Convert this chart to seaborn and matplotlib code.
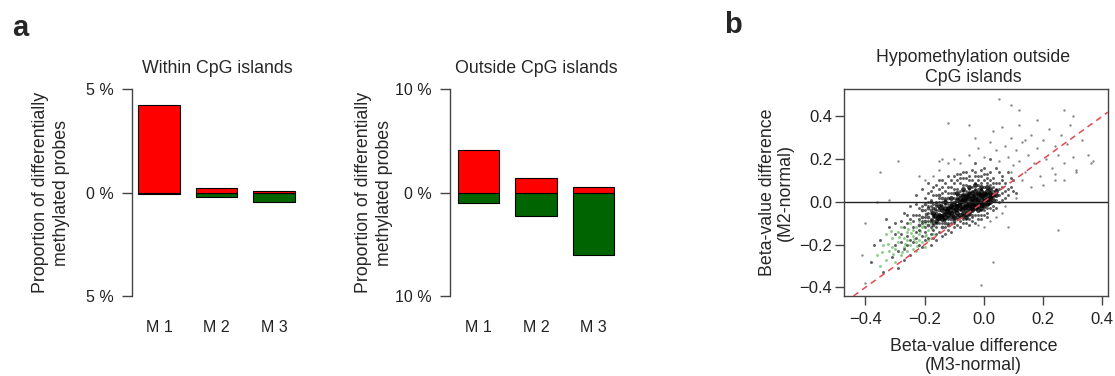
import matplotlib
matplotlib.use("Agg")
import matplotlib.pyplot as plt
import seaborn as sns
import pandas as pd

# ---------------- data ----------------
methods = ["M 1", "M 2", "M 3"]
within_hyper = [4.23, 0.20, 0.06]      # red, % (upwards)
within_hypo = [0.05, 0.20, 0.45]       # green, % (downwards)
outside_hyper = [4.15, 1.40, 0.50]
outside_hypo = [1.06, 2.30, 6.00]

within_ticks = [-5, 0, 5]
within_ticklabels = ["5 %", "0 %", "5 %"]
outside_ticks = [-10, 0, 10]
outside_ticklabels = ["10 %", "0 %", "10 %"]

scatter_ticks = [-0.4, -0.2, 0.0, 0.2, 0.4]
scatter_ticklabels = ["\u22120.4", "\u22120.2", "0.0", "0.2", "0.4"]

core_points = [
(-0.12,-0.06),(-0.12,-0.03),(-0.11,-0.05),(-0.11,-0.02),(-0.10,-0.07),(-0.10,-0.04),(-0.10,-0.01),(-0.09,-0.05),(-0.09,-0.02),(-0.09,0.01),
(-0.08,-0.06),(-0.08,-0.03),(-0.08,0.00),(-0.08,0.02),(-0.07,-0.05),(-0.07,-0.02),(-0.07,0.01),(-0.07,0.03),(-0.06,-0.04),(-0.06,-0.01),
(-0.06,0.01),(-0.06,0.03),(-0.05,-0.05),(-0.05,-0.03),(-0.05,-0.01),(-0.05,0.02),(-0.05,0.04),(-0.04,-0.04),(-0.04,-0.02),(-0.04,0.00),
(-0.04,0.02),(-0.04,0.04),(-0.03,-0.03),(-0.03,-0.01),(-0.03,0.01),(-0.03,0.03),(-0.03,0.05),(-0.02,-0.04),(-0.02,-0.02),(-0.02,0.00),
(-0.02,0.02),(-0.02,0.04),(-0.01,-0.03),(-0.01,-0.01),(-0.01,0.01),(-0.01,0.03),(-0.01,0.05),(0.00,-0.02),(0.00,0.00),(0.00,0.02),
(0.00,0.04),(0.01,-0.01),(0.01,0.01),(0.01,0.03),(0.01,0.05),(0.02,0.00),(0.02,0.02),(0.02,0.04),(0.03,0.01),(0.03,0.03),
(-0.15,-0.06),(-0.14,-0.08),(-0.14,-0.04),(-0.13,-0.07),(-0.13,-0.03),(-0.16,-0.09),(-0.17,-0.05),(-0.15,-0.02),(-0.13,0.00),(-0.11,0.02),
(-0.09,0.04),(-0.07,0.06),(-0.05,0.07),(-0.03,0.08),(-0.01,0.07),(0.01,0.07),(0.02,0.06),(0.04,0.03),(0.04,0.05),(-0.06,-0.07),
(-0.115,-0.045),(-0.105,-0.025),(-0.095,-0.035),(-0.085,-0.015),(-0.075,-0.035),(-0.075,0.005),(-0.065,-0.025),(-0.065,0.015),
(-0.055,-0.015),(-0.055,0.025),(-0.045,-0.035),(-0.045,0.005),(-0.035,-0.015),(-0.035,0.025),(-0.025,-0.025),(-0.025,0.015),
(-0.015,-0.005),(-0.015,0.035),(-0.005,-0.015),(-0.005,0.025),(0.005,0.005),(0.005,0.035),(0.015,0.015),(0.015,-0.005),
(0.025,0.025),(-0.125,-0.045),(-0.135,-0.055),(-0.145,-0.065),(-0.155,-0.075),(-0.165,-0.065),
]

mid_points = [
(-0.22,-0.11),(-0.21,-0.07),(-0.21,-0.04),(-0.20,-0.09),(-0.20,-0.01),(-0.19,-0.11),(-0.19,-0.07),(-0.19,-0.03),(-0.18,-0.09),(-0.18,-0.04),
(-0.18,0.00),(-0.17,-0.11),(-0.17,-0.06),(-0.17,-0.03),(-0.16,-0.10),(-0.16,-0.05),(-0.16,-0.01),(-0.15,-0.08),(-0.15,-0.04),(-0.15,0.03),
(-0.14,-0.12),(-0.14,-0.07),(-0.14,-0.03),(-0.14,0.02),(-0.13,-0.10),(-0.13,-0.05),(-0.13,0.01),(-0.12,-0.11),(-0.12,-0.07),(-0.12,-0.03),
(-0.12,0.02),(-0.11,-0.08),(-0.11,-0.06),(-0.11,-0.01),(-0.10,-0.09),(-0.10,-0.05),(-0.10,0.00),(-0.10,0.04),(-0.09,-0.07),(-0.09,-0.04),
(-0.09,0.02),(-0.08,-0.07),(-0.08,-0.01),(-0.08,0.03),(-0.07,-0.06),(-0.07,-0.03),(-0.07,0.02),(-0.06,-0.06),(-0.06,-0.02),(-0.06,0.02),
(-0.195,-0.055),(-0.175,-0.085),(-0.165,-0.035),(-0.155,-0.065),(-0.145,-0.015),(-0.135,-0.085),(-0.125,-0.045),(-0.115,-0.025),(-0.105,-0.065),(-0.095,-0.015),
]

body_points = [
(-0.30,-0.20),(-0.28,-0.15),(-0.27,-0.22),(-0.26,-0.10),(-0.25,-0.18),(-0.24,-0.06),(-0.23,-0.14),(-0.22,-0.03),(-0.22,-0.20),(-0.21,-0.09),
(-0.20,0.02),(-0.20,-0.12),(-0.19,-0.05),(-0.19,-0.17),(-0.18,0.05),(-0.18,-0.08),(-0.17,-0.01),(-0.17,-0.13),(-0.16,0.08),(-0.16,-0.04),
(-0.15,-0.10),(-0.15,0.02),(-0.14,-0.06),(-0.14,0.10),(-0.13,-0.01),(-0.13,-0.12),(-0.12,0.04),(-0.12,-0.08),(-0.11,0.07),(-0.11,-0.03),
(-0.10,0.12),(-0.10,-0.10),(-0.09,0.03),(-0.09,-0.06),(-0.08,0.09),(-0.08,-0.09),(-0.07,0.05),(-0.07,-0.07),(-0.06,0.14),(-0.06,-0.05),
(-0.05,0.10),(-0.05,-0.08),(-0.04,0.07),(-0.04,-0.06),(-0.03,0.12),(-0.03,0.18),(-0.02,0.08),(-0.02,-0.08),(-0.01,0.15),(-0.01,-0.04),
(0.00,0.10),(0.00,-0.06),(0.01,0.13),(0.01,-0.03),(0.02,0.08),(0.02,0.20),(0.03,0.11),(0.03,-0.02),(0.04,0.06),(0.04,0.16),
(0.05,0.03),(0.05,0.09),(0.06,0.12),(0.06,0.01),(0.07,0.05),(0.08,0.14),(0.08,0.03),(0.09,0.07),(0.10,0.10),(0.11,0.04),
(-0.21,-0.16),(-0.19,0.00),(-0.17,-0.07),(-0.16,-0.15),(-0.15,0.06),(-0.14,-0.02),(-0.13,0.05),(-0.12,-0.05),(-0.11,0.00),(-0.10,0.06),
(-0.09,-0.02),(-0.08,0.13),(-0.07,0.00),(-0.06,0.08),(-0.05,-0.02),(-0.04,0.15),(-0.03,-0.01),(-0.02,0.12),(-0.01,0.06),(0.00,0.16),
(-0.24,-0.12),(-0.23,-0.01),(-0.22,-0.08),(-0.20,-0.07),(-0.18,-0.02),(-0.17,0.03),(-0.16,0.00),(-0.15,-0.06),(-0.14,0.04),(-0.13,-0.08),
(-0.27,-0.05),(-0.25,-0.02),(-0.23,0.03),(-0.21,0.06),(-0.19,0.09),(-0.18,-0.12),(-0.12,0.12),(-0.11,-0.10),(-0.09,0.10),(-0.07,0.11),
(-0.05,0.04),(-0.04,0.01),(-0.03,0.06),(-0.02,0.00),(0.01,0.09),(0.02,0.04),(0.03,0.07),(0.04,0.01),(0.05,0.14),(0.06,0.07),
(-0.38,-0.28),(-0.37,-0.20),(-0.35,-0.18),(-0.34,-0.33),(-0.32,-0.12),(-0.31,-0.26),(-0.29,-0.31),(-0.28,-0.09),(-0.27,-0.27),(-0.26,-0.06),
(-0.25,-0.25),(-0.33,-0.08),(-0.30,-0.10),(-0.18,-0.20),(-0.16,-0.18),(-0.15,-0.14),(-0.14,-0.16),(-0.13,-0.15),(-0.12,-0.13),(-0.11,-0.14),
(-0.10,-0.12),(-0.09,-0.11),(-0.08,-0.12),(-0.07,-0.10),(-0.06,-0.10),(-0.05,-0.11),(-0.04,-0.09),(-0.03,-0.10),(-0.01,-0.08),(0.01,-0.07),
(-0.26,-0.16),(-0.25,-0.08),(-0.24,-0.19),(-0.23,-0.06),(-0.22,-0.13),(-0.21,-0.02),(-0.21,-0.21),(-0.20,-0.04),(-0.20,-0.14),(-0.19,-0.09),
(-0.19,0.04),(-0.18,-0.15),(-0.18,0.01),(-0.17,-0.10),(-0.17,0.07),(-0.16,-0.07),(-0.16,0.03),(-0.16,-0.12),(-0.15,-0.03),(-0.15,0.10),
(-0.14,-0.10),(-0.14,0.00),(-0.14,0.07),(-0.13,-0.04),(-0.13,0.02),(-0.13,0.09),(-0.12,-0.10),(-0.12,-0.01),(-0.12,0.07),(-0.11,-0.07),
(-0.11,0.04),(-0.11,0.10),(-0.10,-0.08),(-0.10,0.02),(-0.10,0.09),(-0.09,-0.08),(-0.09,0.06),(-0.09,0.13),(-0.08,-0.04),(-0.08,0.05),
(-0.08,0.11),(-0.07,-0.08),(-0.07,0.03),(-0.07,0.08),(-0.07,0.14),(-0.06,-0.08),(-0.06,0.05),(-0.06,0.11),(-0.05,-0.06),(-0.05,0.06),
(-0.05,0.12),(-0.04,-0.07),(-0.04,0.05),(-0.04,0.10),(-0.03,-0.06),(-0.03,0.09),(-0.03,0.14),(-0.02,-0.06),(-0.02,0.06),(-0.02,0.10),
(-0.01,-0.06),(-0.01,0.09),(-0.01,0.12),(0.00,-0.04),(0.00,0.07),(0.00,0.13),(0.01,-0.05),(0.01,0.11),(0.02,-0.03),(0.02,0.10),
(0.02,0.14),(0.03,-0.04),(0.03,0.05),(0.03,0.09),(0.04,-0.03),(0.04,0.09),(0.05,0.00),(0.05,0.06),(0.06,0.04),(0.06,0.10),
(0.07,0.02),(0.07,0.09),(0.08,0.06),(0.09,0.11),(0.10,0.05),(-0.28,-0.19),(-0.29,-0.23),(-0.30,-0.15),(-0.27,-0.12),(-0.26,-0.20),
(-0.24,-0.09),(-0.23,-0.17),(-0.22,-0.06),(-0.21,-0.10),(-0.20,-0.18),(-0.19,-0.02),(-0.18,-0.05),(-0.17,-0.17),(-0.16,-0.02),(-0.15,0.00),
]

sparse_points = [
(-0.08,0.18),(-0.05,0.22),(-0.02,0.25),(0.00,0.21),(0.02,0.28),(0.04,0.24),(0.05,0.19),(0.07,0.26),(0.08,0.21),(0.09,0.30),
(0.10,0.17),(0.11,0.24),(0.12,0.19),(0.13,0.28),(0.14,0.14),(0.15,0.22),(0.16,0.31),(0.17,0.18),(0.18,0.25),(0.19,0.12),
(0.20,0.29),(0.21,0.20),(0.22,0.34),(0.23,0.16),(0.24,0.26),(0.25,0.22),(0.26,0.31),(0.27,0.18),(0.28,0.27),(0.29,0.36),
(0.30,0.21),(0.31,0.15),(0.33,0.29),(0.35,0.22),(0.36,0.18),(-0.03,0.30),(0.03,0.33),(0.06,0.35),(0.12,0.36),(0.18,0.38),
(0.13,0.10),(0.16,0.07),(0.09,0.14),(0.11,0.02),(0.07,-0.02),(0.06,-0.05),(0.04,-0.07),(0.02,-0.09),(0.00,-0.12),(-0.02,-0.11),
(-0.12,0.18),(-0.10,0.20),(-0.15,0.15),(-0.17,0.12),(-0.20,0.10),(-0.22,0.12),(-0.14,0.20),(0.20,0.08),(0.24,0.13),(0.27,0.10),
(-0.35,0.14),(-0.29,0.19),(-0.15,0.19),(-0.05,0.36),(0.05,0.48),(0.09,0.45),(0.12,0.43),(-0.12,0.37),(0.25,-0.13),(0.03,-0.28),
(-0.01,-0.39),(0.27,0.43),(0.37,0.19),(0.30,0.40),(-0.41,-0.25),(-0.40,-0.38),(-0.36,0.00),(-0.32,0.01),(0.14,0.29),(0.08,-0.12),
(0.31,0.14),(0.24,0.10),(-0.40,-0.10),
]

green_points = [
(-0.36,-0.25),(-0.35,-0.30),(-0.34,-0.20),(-0.33,-0.27),(-0.32,-0.23),(-0.31,-0.17),(-0.30,-0.28),(-0.30,-0.22),(-0.29,-0.19),(-0.28,-0.25),
(-0.28,-0.12),(-0.27,-0.17),(-0.26,-0.23),(-0.26,-0.14),(-0.25,-0.20),(-0.25,-0.10),(-0.24,-0.16),(-0.24,-0.22),(-0.23,-0.12),(-0.23,-0.19),
(-0.22,-0.15),(-0.22,-0.09),(-0.21,-0.19),(-0.21,-0.12),(-0.20,-0.16),(-0.20,-0.10),(-0.19,-0.13),(-0.18,-0.17),(-0.18,-0.10),(-0.17,-0.15),
(-0.33,-0.15),(-0.31,-0.21),(-0.29,-0.14),(-0.27,-0.21),(-0.26,-0.18),(-0.24,-0.13),(-0.23,-0.23),(-0.22,-0.18),(-0.20,-0.21),(-0.19,-0.18),
(-0.345,-0.235),(-0.325,-0.195),(-0.305,-0.245),(-0.285,-0.165),(-0.265,-0.195),(-0.245,-0.145),(-0.225,-0.205),(-0.215,-0.135),
(-0.195,-0.155),(-0.175,-0.125),(-0.315,-0.135),(-0.275,-0.235),(-0.255,-0.125),(-0.235,-0.175),(-0.205,-0.115),
]

# ---------------- style ----------------
sns.set_style("ticks")
plt.rcParams["font.family"] = ["Liberation Sans", "DejaVu Sans"]
plt.rcParams["axes.edgecolor"] = "#444444"
plt.rcParams["xtick.color"] = "#444444"
plt.rcParams["ytick.color"] = "#444444"
plt.rcParams["xtick.labelcolor"] = "#222222"
plt.rcParams["ytick.labelcolor"] = "#222222"

W, H = 1115, 376
fig = plt.figure(figsize=(W / 100, H / 100), dpi=100)

def px_axes(x0, y_top, x1, y_bot):
    return fig.add_axes([x0 / W, 1 - y_bot / H, (x1 - x0) / W, (y_bot - y_top) / H])

RED = "#FF0000"
GREEN = "#006400"

def bar_panel(ax, hyper, hypo, lim, ticks, ticklabels, title, xlim, label_x):
    df_up = pd.DataFrame({"method": methods, "value": hyper})
    df_dn = pd.DataFrame({"method": methods, "value": [-v for v in hypo]})
    sns.barplot(data=df_dn, x="method", y="value", color=GREEN, saturation=1,
                edgecolor="black", linewidth=0.8, width=0.72, ax=ax)
    sns.barplot(data=df_up, x="method", y="value", color=RED, saturation=1,
                edgecolor="black", linewidth=0.8, width=0.72, ax=ax)
    ax.set_xlim(*xlim)
    ax.set_ylim(-lim, lim)
    for s in ["top", "right", "bottom"]:
        ax.spines[s].set_visible(False)
    ax.spines["left"].set_linewidth(1.0)
    ax.set_yticks(ticks)
    ax.set_yticklabels(ticklabels)
    ax.tick_params(axis="y", left=True, direction="out", length=7, width=1.0, pad=6,
                   labelsize=11.5)
    ax.tick_params(axis="x", bottom=False, length=0, pad=17, labelsize=11.5)
    ax.set_xlabel("")
    ax.set_ylabel("Proportion of differentially\nmethylated probes", fontsize=12.8,
                  linespacing=1.35)
    ax.yaxis.set_label_coords(label_x, 0.5)
    ax.text(0.5, 1.10, title, transform=ax.transAxes, ha="center", va="center",
            fontsize=12.8)
    ax.set_facecolor("none")

ax1 = px_axes(132, 89, 303, 296)
bar_panel(ax1, within_hyper, within_hypo, 5, within_ticks, within_ticklabels,
          "Within CpG islands", (-0.47, 2.5), -0.36)

ax2 = px_axes(450, 89, 622, 296)
bar_panel(ax2, outside_hyper, outside_hypo, 10, outside_ticks, outside_ticklabels,
          "Outside CpG islands", (-0.5, 2.5), -0.33)

# ---------------- scatter ----------------
ax3 = px_axes(844, 89, 1108, 296)
df_core = pd.DataFrame(core_points, columns=["x", "y"])
df_mid = pd.DataFrame(mid_points, columns=["x", "y"])
df_body = pd.DataFrame(body_points, columns=["x", "y"])
df_sparse = pd.DataFrame(sparse_points, columns=["x", "y"])
df_green = pd.DataFrame(green_points, columns=["x", "y"])

sns.scatterplot(data=df_sparse, x="x", y="y", color="#555555", s=3, linewidth=0,
                alpha=0.7, ax=ax3)
sns.scatterplot(data=df_green, x="x", y="y", color="#7cc47c", s=4.5, linewidth=0,
                alpha=0.85, ax=ax3)
sns.scatterplot(data=df_body, x="x", y="y", color="#1a1a1a", s=4.5, linewidth=0,
                alpha=0.7, ax=ax3)
sns.scatterplot(data=df_mid, x="x", y="y", color="#111111", s=7, linewidth=0,
                alpha=0.7, ax=ax3)
sns.scatterplot(data=df_core, x="x", y="y", color="black", s=12, linewidth=0,
                alpha=0.8, ax=ax3)

ax3.axhline(0, color="#222222", lw=1.0, zorder=1)
ax3.axline((0, 0), slope=1, color="#e8474f", lw=1.1, ls=(0, (4, 3)), zorder=3)

ax3.set_xlim(-0.472, 0.419)
ax3.set_ylim(-0.44, 0.527)
ax3.set_xticks(scatter_ticks)
ax3.set_yticks(scatter_ticks)
ax3.set_xticklabels(scatter_ticklabels)
ax3.set_yticklabels(scatter_ticklabels)
for s in ax3.spines.values():
    s.set_linewidth(1.0)
ax3.tick_params(axis="both", direction="out", length=6.5, width=1.0, labelsize=12)
ax3.tick_params(axis="x", pad=5)
ax3.tick_params(axis="y", pad=2)
ax3.set_xlabel("Beta-value difference\n(M3-normal)", fontsize=12.8, linespacing=1.1)
ax3.set_ylabel("Beta-value difference\n(M2-normal)", fontsize=12.8, linespacing=1.1)
ax3.xaxis.set_label_coords(0.49, -0.205)
ax3.yaxis.set_label_coords(-0.19, 0.5)
ax3.text(0.49, 1.105, "Hypomethylation outside\nCpG islands", transform=ax3.transAxes,
         ha="center", va="center", fontsize=12.8, linespacing=1.2)

# panel letters
fig.text(20 / W, 1 - 28 / H, "a", fontsize=21, fontweight="bold", ha="center", va="center")
fig.text(733 / W, 1 - 25 / H, "b", fontsize=21, fontweight="bold", ha="center", va="center")

fig.savefig("out.png", dpi=100)
